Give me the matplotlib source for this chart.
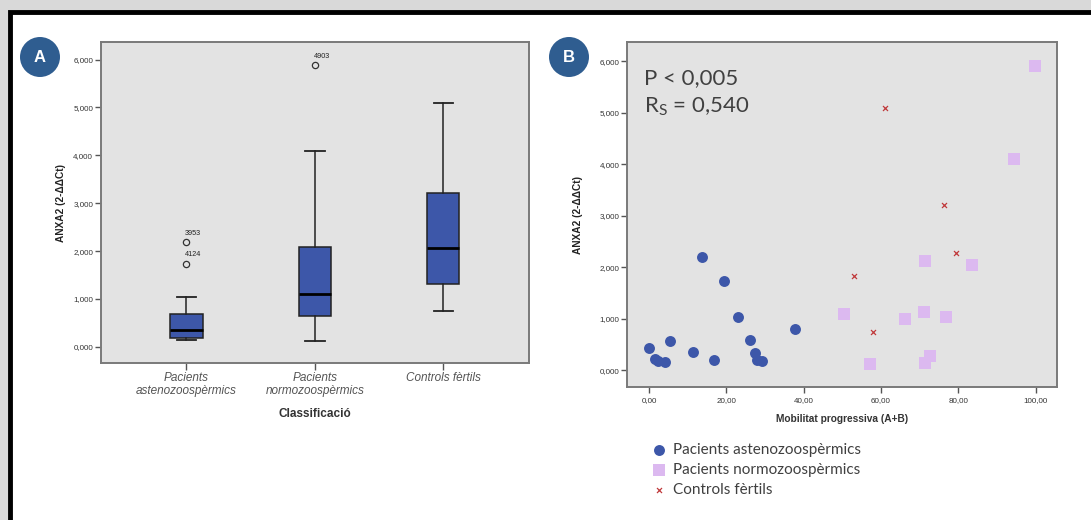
import matplotlib
import matplotlib.pyplot as plt
from matplotlib.patches import Circle, Rectangle
from matplotlib.ticker import FuncFormatter

matplotlib.use("Agg")

# ---- data ----
box_labels = ["Pacients\nastenozoospèrmics", "Pacients\nnormozoospèrmics", "Controls fèrtils"]
box_whislo = [0.15, 0.12, 0.74]
box_q1 = [0.18, 0.64, 1.32]
box_med = [0.36, 1.10, 2.06]
box_q3 = [0.69, 2.08, 3.21]
box_whishi = [1.04, 4.09, 5.10]
box_fliers = [[2.18, 1.73], [5.88], []]
flier_ids = [["3953", "4124"], ["4903"], []]

astheno_x = [0.1, 1.5, 2.2, 4.1, 5.5, 11.4, 13.6, 16.8, 19.5, 22.9, 26.2, 27.3, 27.8, 29.1, 37.7]
astheno_y = [0.43, 0.21, 0.17, 0.16, 0.57, 0.35, 2.19, 0.19, 1.73, 1.04, 0.58, 0.34, 0.19, 0.17, 0.80]
normo_x = [99.8, 94.3, 71.4, 83.4, 50.3, 66.2, 71.2, 76.9, 57.1, 71.3, 72.7]
normo_y = [5.90, 4.10, 2.12, 2.04, 1.09, 1.00, 1.13, 1.04, 0.12, 0.14, 0.28]
ctrl_x = [60.9, 76.2, 79.3, 53.0, 57.9]
ctrl_y = [5.10, 3.21, 2.28, 1.84, 0.74]

legend_labels = ["Pacients astenozoospèrmics", "Pacients normozoospèrmics", "Controls fèrtils"]
stats_lines = ["P < 0,005", "R$_\\mathrm{S}$ = 0,540"]

BOX_BLUE = "#3d57a9"
PINK = "#dcb9f0"
RED = "#c0393b"
PANEL_BG = "#e3e3e3"
BADGE = "#2f5d90"

plt.rcParams["font.family"] = ["Liberation Sans", "DejaVu Sans"]
plt.rcParams["mathtext.fontset"] = "custom"
plt.rcParams["mathtext.rm"] = "Lato"

W, H = 1091, 520
fig = plt.figure(figsize=(W / 100, H / 100), dpi=100)


def px_rect(x0, y0, x1, y1):
    """pixel box (top-left origin) -> figure fraction [l, b, w, h]"""
    return [x0 / W, 1 - y1 / H, (x1 - x0) / W, (y1 - y0) / H]


# outer page frame: grey margin, black border on top/left, white sheet
fig.patch.set_facecolor("#d9d9d9")
fig.add_artist(Rectangle((10 / W, -0.2), 1.2, 1.2 - 12 / H, transform=fig.transFigure,
                         facecolor="white", edgecolor="black", linewidth=3.5, zorder=0))


def style_axes(ax):
    ax.set_facecolor(PANEL_BG)
    for s in ax.spines.values():
        s.set_color("#7a7a7a")
        s.set_linewidth(1.4)
    ax.tick_params(length=4, width=1, color="#555555", labelsize=5.8, labelcolor="#333333", pad=1.5)


def fmt_dec(n):
    return FuncFormatter(lambda v, _: f"{v:.{n}f}".replace(".", ","))


# ---- panel A: box plot ----
axA = fig.add_axes(px_rect(100.8, 42.3, 529, 362.7))
style_axes(axA)
stats = []
for i in range(len(box_labels)):
    stats.append(dict(med=box_med[i], q1=box_q1[i], q3=box_q3[i],
                      whislo=box_whislo[i], whishi=box_whishi[i], fliers=box_fliers[i]))
pos = [1, 2, 3]
axA.bxp(stats, positions=pos, widths=0.25, capwidths=0.15, patch_artist=True,
        boxprops=dict(facecolor=BOX_BLUE, edgecolor="#222222", linewidth=1.1),
        medianprops=dict(color="black", linewidth=2),
        whiskerprops=dict(color="#222222", linewidth=1.1),
        capprops=dict(color="#222222", linewidth=1.3),
        flierprops=dict(marker="o", markerfacecolor="none", markeredgecolor="#333333",
                        markersize=4.5, markeredgewidth=0.9))
for p, vals, ids in zip(pos, box_fliers, flier_ids):
    for v, t in zip(vals, ids):
        axA.annotate(t, (p, v), xytext=(-1, 4), textcoords="offset points",
                     fontsize=5.2, color="#222222", ha="left", va="bottom")
axA.set_xlim(0.333, 3.667)
axA.set_ylim(-0.33, 6.36)
axA.set_yticks(range(0, 7))
axA.yaxis.set_major_formatter(fmt_dec(3))
axA.set_xticks(pos)
axA.set_xticklabels(box_labels, fontsize=8.5, style="italic", color="#555555", linespacing=1.05)
axA.tick_params(axis="x", length=5, pad=2)
axA.set_xlabel("Classificació", fontsize=8.5, fontweight="bold", color="#333333", labelpad=8)
axA.set_ylabel("ANXA2 (2-ΔΔCt)", fontsize=7.3, fontweight="bold", color="#222222", labelpad=5)

# ---- panel B: scatter ----
axB = fig.add_axes(px_rect(627, 42.3, 1057, 386.7))
style_axes(axB)
h1 = axB.scatter(astheno_x, astheno_y, s=62, marker="o", color=BOX_BLUE, linewidths=0, zorder=3)
h2 = axB.scatter(normo_x, normo_y, s=70, marker="s", color=PINK, linewidths=0, zorder=3)
h3 = axB.scatter(ctrl_x, ctrl_y, s=13, marker="x", color=RED, linewidths=0.9, zorder=3)
axB.set_xlim(-5.7, 105.5)
axB.set_ylim(-0.32, 6.37)
axB.set_xticks(range(0, 101, 20))
axB.set_yticks(range(0, 7))
axB.xaxis.set_major_formatter(fmt_dec(2))
axB.yaxis.set_major_formatter(fmt_dec(3))
axB.tick_params(axis="x", pad=3.5)
axB.set_xlabel("Mobilitat progressiva (A+B)", fontsize=7.3, fontweight="bold", color="#333333", labelpad=7)
axB.set_ylabel("ANXA2 (2-ΔΔCt)", fontsize=7.3, fontweight="bold", color="#222222", labelpad=12)
axB.text(0.04, 0.896, stats_lines[0], transform=axB.transAxes, fontsize=16,
         family="Lato", color="#404040", va="center")
axB.text(0.04, 0.812, stats_lines[1], transform=axB.transAxes, fontsize=16,
         family="Lato", color="#404040", va="center")

fig.legend([h1, h2, h3], legend_labels, loc="upper left",
           bbox_to_anchor=(651 / W, 1 - 443 / H), frameon=False,
           prop=dict(family="Lato", size=11), labelcolor="#404040",
           handletextpad=0.45, labelspacing=0.38, borderpad=0, handlelength=1.0,
           borderaxespad=0)

# ---- round panel badges ----
for cx, letter in [(40, "A"), (569, "B")]:
    fig.add_artist(Circle((cx / 100, (H - 57) / 100), 0.2, transform=fig.dpi_scale_trans,
                          facecolor=BADGE, edgecolor="none"))
    fig.text(cx / W, 1 - 57 / H, letter, ha="center", va="center", color="white",
             fontsize=12, fontweight="bold")

fig.savefig("out.png", dpi=100, facecolor=fig.get_facecolor())
